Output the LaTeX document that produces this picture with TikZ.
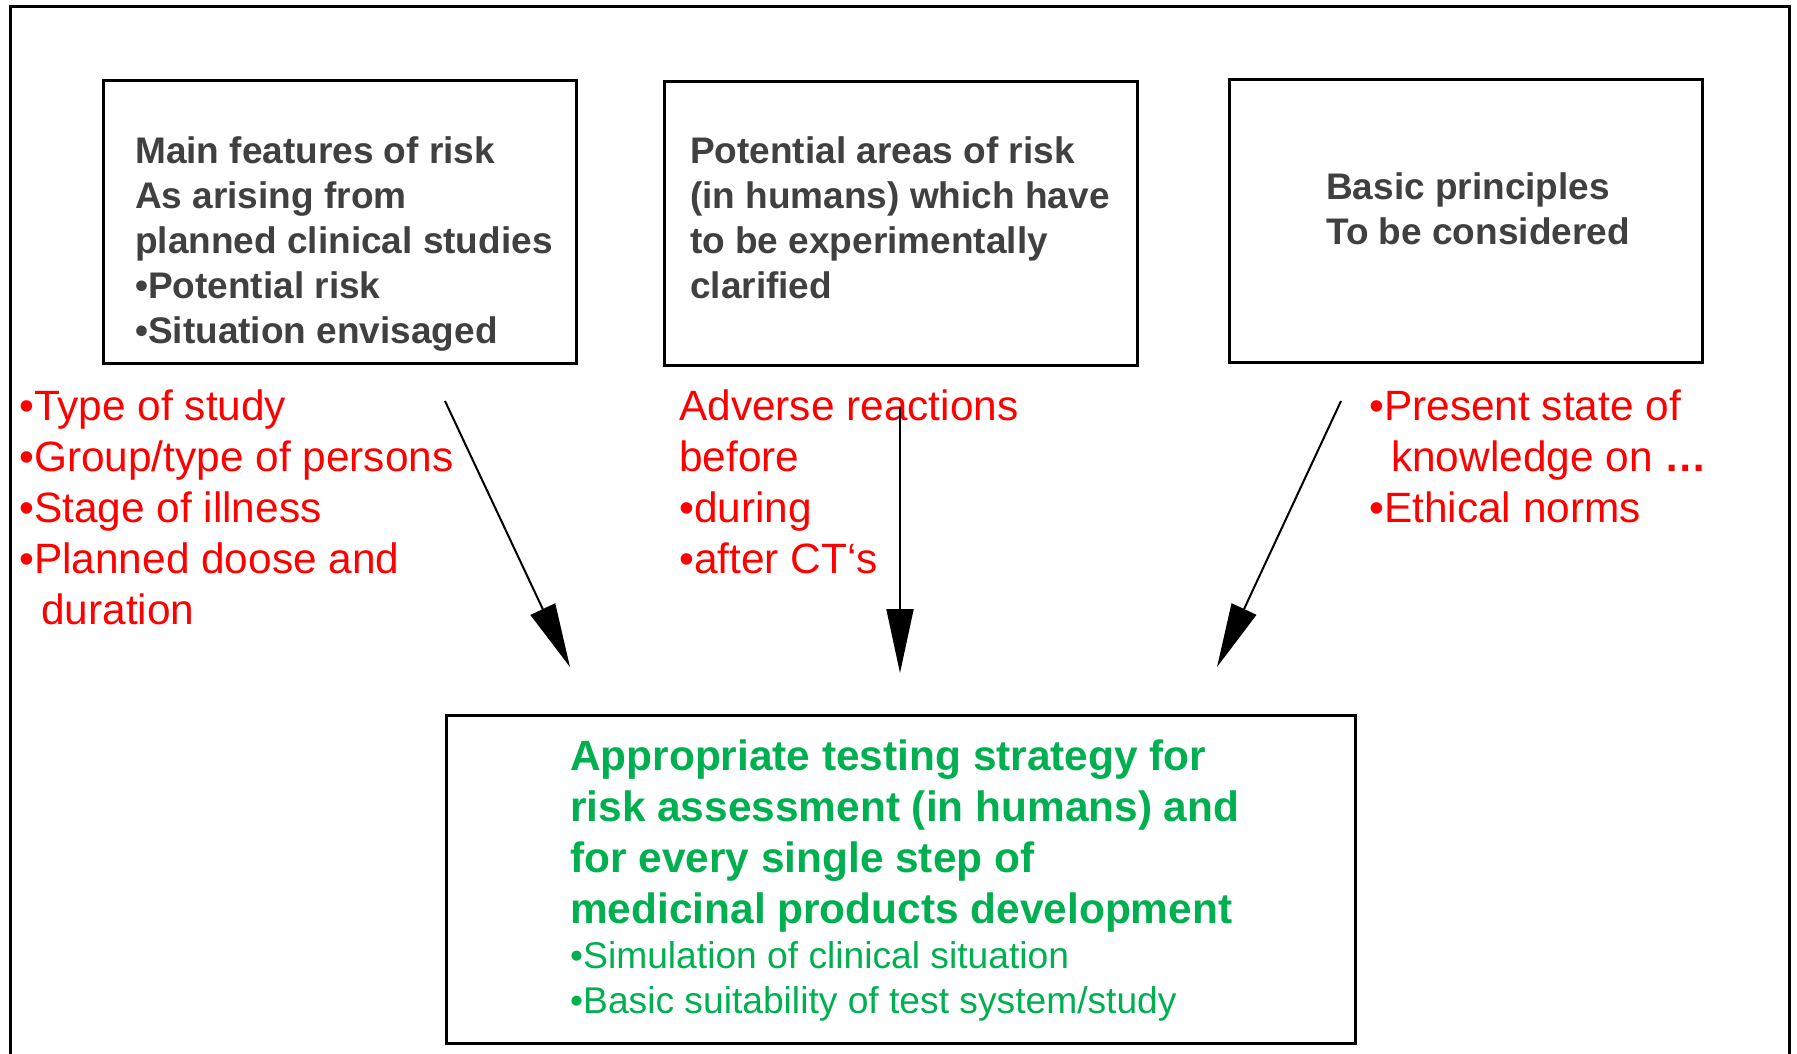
\documentclass[tikz,border=0pt]{standalone}
\usepackage{fontspec}
\setmainfont{Liberation Sans}
\usetikzlibrary{arrows.meta}
\definecolor{boxgray}{HTML}{404040}
\definecolor{txtred}{HTML}{FF0000}
\definecolor{txtgreen}{HTML}{00B050}
\begin{document}
\begin{tikzpicture}[x=1pt,y=-1pt,
  box/.style={draw=black, line width=2.5pt, inner sep=0pt, anchor=north west},
  graytext/.style={anchor=base west, inner sep=0pt, text=boxgray, font=\fontsize{37}{45}\selectfont\bfseries},
  redtext/.style={anchor=base west, inner sep=0pt, text=txtred, font=\fontsize{42.4}{51}\selectfont},
  greentext/.style={anchor=base west, inner sep=0pt, text=txtgreen, font=\fontsize{42.4}{51}\selectfont},
  arr/.style={line width=2pt, -{Triangle[length=64pt,width=27pt]}}
]
\useasboundingbox (0,0) rectangle (1797,1053);
\fill[white] (0,0) rectangle (1797,1053);
\draw[line width=3pt] (10,1120) -- (10,6) -- (1789,6) -- (1789,1120);

% boxes
\node[box, minimum width=473pt, minimum height=283pt] (b1) at (102,79) {};
\node[box, minimum width=473pt, minimum height=284pt] (b2) at (663,80) {};
\node[box, minimum width=473pt, minimum height=283pt] (b3) at (1228,78) {};
\node[box, minimum width=909pt, minimum height=328pt] (b4) at (445,714) {};

% box texts
\node[graytext] (t1) at (135,163) {\begin{tabular}[t]{@{}l@{}}Main features of risk\\As arising from\\planned clinical studies\\•Potential risk\\•Situation envisaged\end{tabular}};
\node[graytext] (t2) at (690,163) {\begin{tabular}[t]{@{}l@{}}Potential areas of risk\\(in humans) which have\\to be experimentally\\clarified\end{tabular}};
\node[graytext] (t3) at (1326,199) {\begin{tabular}[t]{@{}l@{}}Basic principles\\To be considered\end{tabular}};

% red texts
\node[redtext] (r1) at (19,420) {\begin{tabular}[t]{@{}l@{}}•Type of study\\•Group/type of persons\\•Stage of illness\\•Planned doose and\\\hspace*{22pt}duration\end{tabular}};
\node[redtext] (r2) at (679,420) {\begin{tabular}[t]{@{}l@{}}Adverse reactions\\before\\•during\\•after CT‘s\end{tabular}};
\node[redtext] (r3) at (1369,420) {\begin{tabular}[t]{@{}l@{}}•Present state of\\\hspace*{22pt}knowledge on \textbf{…}\\•Ethical norms\end{tabular}};

% green text
\node[greentext] (g1) at (570,770) {\begin{tabular}[t]{@{}l@{}}\bfseries Appropriate testing strategy for\\\bfseries risk assessment (in humans) and\\\bfseries for every single step of\\\bfseries medicinal products development\\[-6pt]\fontsize{37.2}{45}\selectfont •Simulation of clinical situation\\[-6pt]\fontsize{37.2}{45}\selectfont •Basic suitability of test system/study\end{tabular}};

% arrows
\coordinate (a1s) at (445,401);
\coordinate (a1e) at (570,667);
\coordinate (a2s) at (900,407);
\coordinate (a2e) at (900,673);
\coordinate (a3s) at (1341,401);
\coordinate (a3e) at (1217,667);
\draw[arr] (a1s) -- (a1e);
\draw[arr] (a2s) -- (a2e);
\draw[arr] (a3s) -- (a3e);
\end{tikzpicture}
\end{document}
